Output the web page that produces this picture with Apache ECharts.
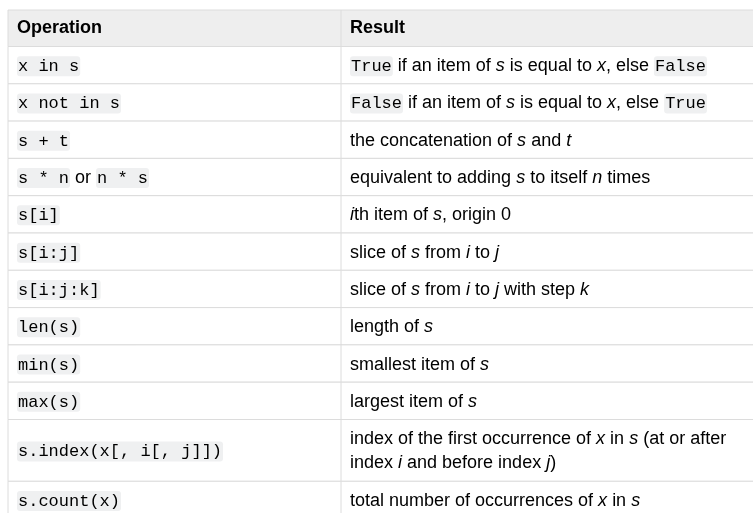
<!DOCTYPE html>
<html><head><meta charset="utf-8">
<script src="https://cdn.jsdelivr.net/npm/echarts@6/dist/echarts.min.js"></script>
<style>html,body{margin:0;padding:0;background:#fff}#c{width:753px;height:513px}</style>
</head><body><div id="c"></div>
<script>
const headers = ["Operation", "Result"];
const operations = [
  "{c|x in s}",
  "{c|x not in s}",
  "{c|s + t}",
  "{c|s * n}{n| or }{c|n * s}",
  "{c|s[i]}",
  "{c|s[i:j]}",
  "{c|s[i:j:k]}",
  "{c|len(s)}",
  "{c|min(s)}",
  "{c|max(s)}",
  "{c|s.index(x[, i[, j]])}",
  "{c|s.count(x)}"
];
const results = [
  "{c|True}{n| if an item of }{i|s}{n| is equal to }{i|x}{n|, else }{c|False}",
  "{c|False}{n| if an item of }{i|s}{n| is equal to }{i|x}{n|, else }{c|True}",
  "{n|the concatenation of }{i|s}{n| and }{i|t}",
  "{n|equivalent to adding }{i|s}{n| to itself }{i|n}{n| times}",
  "{i|i}{n|th item of }{i|s}{n|, origin 0}",
  "{n|slice of }{i|s}{n| from }{i|i}{n| to }{i|j}",
  "{n|slice of }{i|s}{n| from }{i|i}{n| to }{i|j}{n| with step }{i|k}",
  "{n|length of }{i|s}",
  "{n|smallest item of }{i|s}",
  "{n|largest item of }{i|s}",
  "{n|index of the first occurrence of }{i|x}{n| in }{i|s}{n| (at or after}\n{n|index }{i|i}{n| and before index }{i|j}{n|)}",
  "{n|total number of occurrences of }{i|x}{n| in }{i|s}"
];
const rowLines = [1,1,1,1,1,1,1,1,1,1,2,1];

const X0 = 8, X1 = 341, X2 = 760, TOP = 10, HEAD_H = 36.5, ROW_H = 37.3, LINE_EXTRA = 24.5;
const border = '#dcdcdc';
const rich = {
  n: {fontFamily: 'Liberation Sans', fontSize: 18, color: '#222', lineHeight: 24},
  i: {fontFamily: 'Liberation Sans', fontSize: 18, fontStyle: 'italic', color: '#222', lineHeight: 24},
  c: {fontFamily: 'Liberation Mono', fontSize: 17, color: '#222', backgroundColor: '#eff0f1', borderRadius: 3, padding: [2, 1, 1, 1], lineHeight: 24},
  h: {fontFamily: 'Liberation Sans', fontSize: 18, fontWeight: 'bold', color: '#222'}
};
const els = [];
// header
els.push({type:'rect', shape:{x:X0, y:TOP, width:X2-X0, height:HEAD_H}, style:{fill:'#eeeeee', stroke:border, lineWidth:1}});
els.push({type:'line', shape:{x1:X1, y1:TOP, x2:X1, y2:TOP+HEAD_H}, style:{stroke:border}});
headers.forEach((h, k) => els.push({type:'text', x:(k?X1:X0)+9, y:TOP+HEAD_H/2, style:{text:'{h|'+h+'}', rich, verticalAlign:'middle'}}));
let y = TOP + HEAD_H;
operations.forEach((op, r) => {
  const h = ROW_H + (rowLines[r]-1)*LINE_EXTRA;
  els.push({type:'rect', shape:{x:X0, y, width:X2-X0, height:h}, style:{fill:'#fff', stroke:border, lineWidth:1}});
  els.push({type:'line', shape:{x1:X1, y1:y, x2:X1, y2:y+h}, style:{stroke:border}});
  els.push({type:'text', x:X0+9, y:y+h/2+1, style:{text:op, rich, verticalAlign:'middle'}});
  els.push({type:'text', x:X1+9, y:y+h/2+1, style:{text:results[r], rich, verticalAlign:'middle'}});
  y += h;
});
const chart = echarts.init(document.getElementById('c'));
chart.setOption({animation:false, graphic:{elements:els}});
</script></body></html>
